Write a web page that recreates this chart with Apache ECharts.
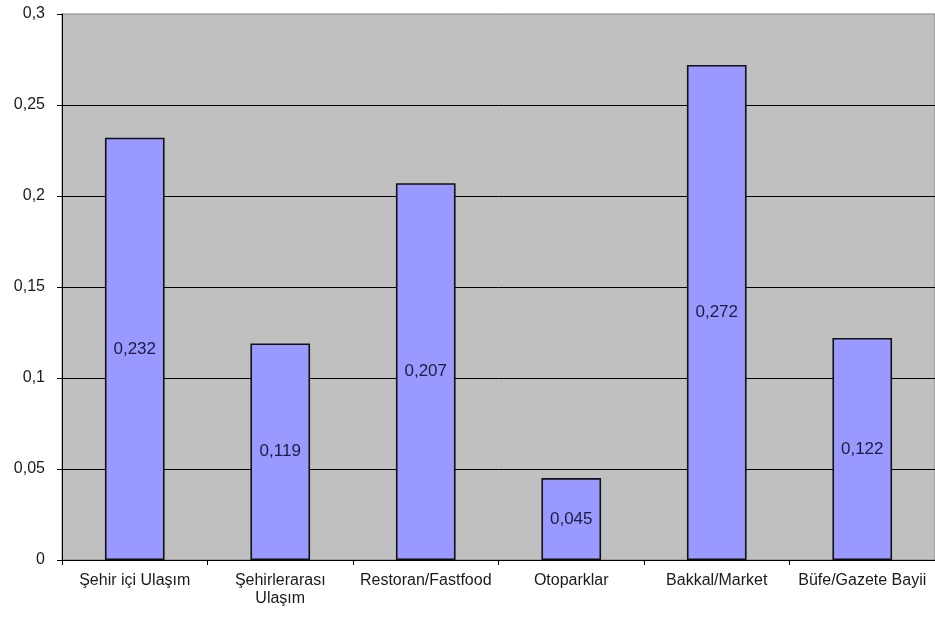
<!DOCTYPE html>
<html>
<head>
<meta charset="utf-8">
<script src="https://cdn.jsdelivr.net/npm/echarts@6/dist/echarts.min.js"></script>
<style>
  html, body { margin: 0; padding: 0; background: #fff; }
  #chart { width: 935px; height: 619px; }
</style>
</head>
<body>
<div id="chart"></div>
<script>
// Categories and shares per category
const categories = [
  'Şehir içi Ulaşım',
  'Şehirlerarası\nUlaşım',
  'Restoran/Fastfood',
  'Otoparklar',
  'Bakkal/Market',
  'Büfe/Gazete Bayii'
];
const values = [0.232, 0.119, 0.207, 0.045, 0.272, 0.122];

// Y axis range and step
const yMin = 0;
const yMax = 0.3;
const yStep = 0.05;

const comma = v => String(+v.toFixed(3)).replace('.', ',');
const font = '"Liberation Sans", Arial, sans-serif';

const chart = echarts.init(document.getElementById('chart'));
chart.setOption({
  animation: false,
  backgroundColor: '#ffffff',
  grid: {
    left: 62, top: 14, right: 0, bottom: 59,
    show: true,
    backgroundColor: '#C0C0C0',
    borderColor: '#808080',
    borderWidth: 1
  },
  xAxis: {
    type: 'category',
    data: categories,
    axisLine: { show: true, lineStyle: { color: '#000', width: 1 } },
    axisTick: { show: true, length: 5, lineStyle: { color: '#000' } },
    axisLabel: {
      interval: 0, margin: 12, color: '#1a1a1a',
      fontFamily: font, fontSize: 16, lineHeight: 18
    },
    splitLine: { show: false }
  },
  yAxis: {
    type: 'value',
    min: yMin, max: yMax, interval: yStep,
    axisLine: { show: true, lineStyle: { color: '#000', width: 1 } },
    axisTick: { show: true, length: 5, lineStyle: { color: '#000' } },
    axisLabel: {
      margin: 17, color: '#1a1a1a',
      fontFamily: font, fontSize: 16,
      formatter: comma
    },
    splitLine: {
      show: true, showMinLine: false, showMaxLine: false,
      lineStyle: { color: '#000', width: 1 }
    }
  },
  series: [{
    type: 'bar',
    data: values,
    barCategoryGap: '59%',
    itemStyle: { color: '#9999FF', borderColor: '#111', borderWidth: 1.6 },
    label: {
      show: true, position: 'inside',
      color: '#1c1c40', fontFamily: font, fontSize: 17,
      formatter: p => comma(p.value)
    }
  }]
});
</script>
</body>
</html>
